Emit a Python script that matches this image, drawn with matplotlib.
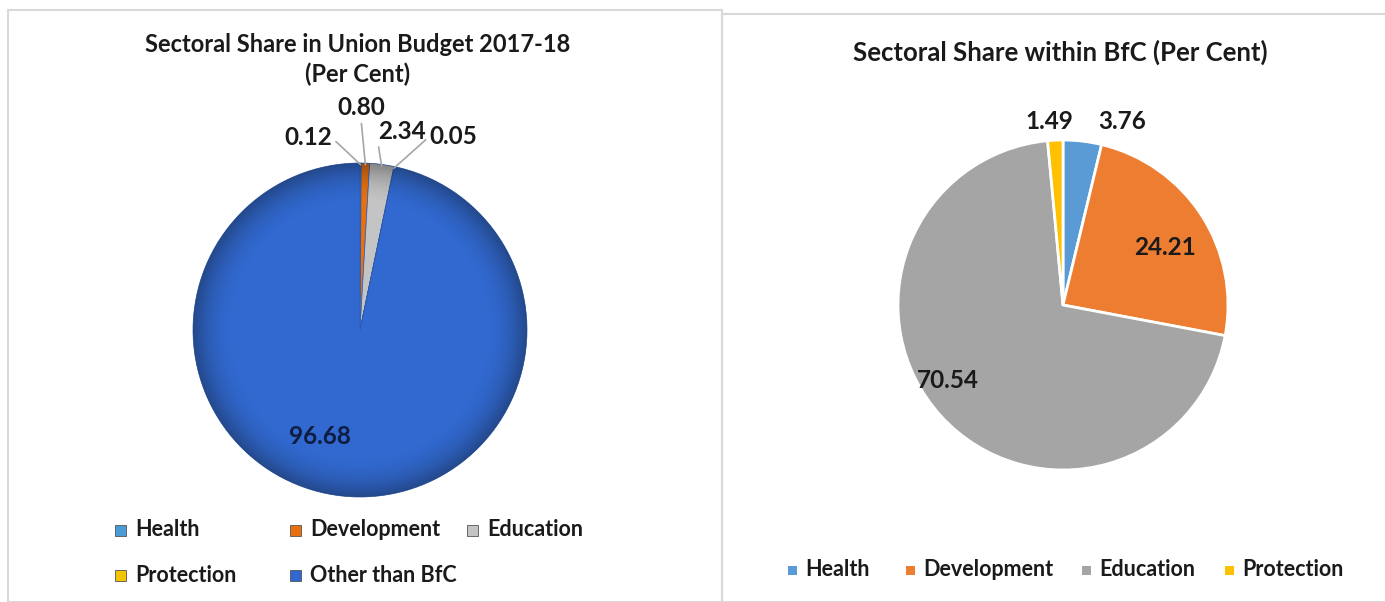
import numpy as np
import matplotlib.pyplot as plt
from matplotlib.patches import Rectangle, Circle

plt.rcParams['font.family'] = ['Lato', 'DejaVu Sans']

# left chart: sectoral share in Union Budget 2017-18
budget_labels = ['Health', 'Development', 'Education', 'Protection', 'Other than BfC']
budget_values = [0.12, 0.80, 2.34, 0.05, 96.68]
budget_colors = ['#4a9bd6', '#e8700f', '#c4c4c4', '#f2c500', '#3169d0']

# right chart: sectoral share within BfC
bfc_labels = ['Health', 'Development', 'Education', 'Protection']
bfc_values = [3.76, 24.21, 70.54, 1.49]
bfc_colors = ['#5b9bd5', '#ed7d31', '#a5a5a5', '#ffc000']

W, H = 1385, 602
fig = plt.figure(figsize=(W / 100, H / 100), dpi=100)


def px(x, y):
    """pixel (from top-left) -> figure fraction"""
    return x / W, 1 - y / H


def pie_axes(cx, cy, r, lim=1.25):
    side = 2 * lim * r
    ax = fig.add_axes([(cx - side / 2) / W, (H - cy - side / 2) / H, side / W, side / H])
    ax.set_xlim(-lim, lim)
    ax.set_ylim(-lim, lim)
    ax.set_aspect('equal')
    ax.axis('off')
    return ax


def edge_point(w, r=1.0):
    ang = np.deg2rad((w.theta1 + w.theta2) / 2)
    return r * np.cos(ang), r * np.sin(ang)


# panel borders
fig.patches.append(Rectangle(px(8, 602), 714 / W, 592 / H, transform=fig.transFigure,
                             fill=False, edgecolor='#d9d9d9', linewidth=1.5))
fig.patches.append(Rectangle(px(722, 602), 670 / W, 588 / H, transform=fig.transFigure,
                             fill=False, edgecolor='#d9d9d9', linewidth=1.5))

# ---------------- left pie ----------------
ax1 = pie_axes(360, 330, 167)
wedges1, _ = ax1.pie(budget_values, colors=budget_colors, startangle=90, counterclock=False,
                     radius=1, wedgeprops=dict(edgecolor='#2b5aae', linewidth=0.5))

# soft shading to mimic the 3D look
yy, xx = np.mgrid[-1:1:400j, -1:1:400j]
rr = np.sqrt(xx ** 2 + yy ** 2)
shade = np.zeros((400, 400, 4))
shade[..., 0:3] = 0.05
shade[..., 3] = np.clip((rr - 0.75) / 0.25, 0, 1) ** 2 * 0.35
im = ax1.imshow(shade, extent=(-1, 1, -1, 1), zorder=3)
im.set_clip_path(Circle((0, 0), 1, transform=ax1.transData))

# label positions (radius units) and leader settings
lab1_pos = [(-0.31, 1.15), (0.006, 1.33), (0.25, 1.19), (0.56, 1.16)]
lab1_rel = [(1.0, 0.5), (0.5, 0.0), (0.0, 0.0), (0.0, 0.5)]
for w, v, pos, rel in zip(wedges1[:4], budget_values[:4], lab1_pos, lab1_rel):
    ax1.annotate(f'{v:.2f}', xy=edge_point(w, 0.99), xytext=pos, ha='center', va='center',
                 fontsize=17.5, fontweight='bold', color='#1a1a1a', zorder=5,
                 arrowprops=dict(arrowstyle='-', color='#a6a6a6', lw=1.2, relpos=rel,
                                 shrinkA=1, shrinkB=0))
ax1.text(-0.24, -0.64, f'{budget_values[4]:.2f}', ha='center', va='center', fontsize=17.5,
         fontweight='bold', color='#0e1d40', zorder=5)

fig.text(*px(358, 44), 'Sectoral Share in Union Budget 2017-18', ha='center', va='center',
         fontsize=17, fontweight='bold', color='#1a1a1a')
fig.text(*px(358, 74), '(Per Cent)', ha='center', va='center',
         fontsize=17, fontweight='bold', color='#1a1a1a')

# left legend (two rows)
leg1_xy = [(120, 530), (295, 530), (472, 530), (120, 575), (295, 575)]
for lbl, col, (lx, ly) in zip(budget_labels, budget_colors, leg1_xy):
    fig.patches.append(Rectangle(px(lx - 5.5, ly + 5.5), 11 / W, 11 / H, transform=fig.transFigure,
                                 facecolor=col, edgecolor='#555555', linewidth=0.6))
    fig.text(*px(lx + 15, ly), lbl, ha='left', va='center', fontsize=15.5, fontweight='bold',
             color='#1a1a1a')

# ---------------- right pie ----------------
ax2 = pie_axes(1063, 305, 165)
wedges2, _ = ax2.pie(bfc_values, colors=bfc_colors, startangle=90, counterclock=False,
                     radius=1, wedgeprops=dict(edgecolor='white', linewidth=2))

lab2_pos = [(0.36, 1.11), (0.62, 0.35), (-0.70, -0.46), (-0.085, 1.11)]
for v, pos in zip(bfc_values, lab2_pos):
    ax2.text(pos[0], pos[1], f'{v:.2f}', ha='center', va='center', fontsize=17.5,
             fontweight='bold', color='#1a1a1a')

fig.text(*px(1060, 52), 'Sectoral Share within BfC (Per Cent)', ha='center', va='center',
         fontsize=18.5, fontweight='bold', color='#1a1a1a')

leg2_x = [792, 910, 1086, 1229]
for lbl, col, lx in zip(bfc_labels, bfc_colors, leg2_x):
    fig.patches.append(Rectangle(px(lx - 4.5, 570 + 4.5), 9 / W, 9 / H, transform=fig.transFigure,
                                 facecolor=col, edgecolor='none'))
    fig.text(*px(lx + 13, 570), lbl, ha='left', va='center', fontsize=15.5, fontweight='bold',
             color='#1a1a1a')

fig.savefig('out.png', dpi=100)
